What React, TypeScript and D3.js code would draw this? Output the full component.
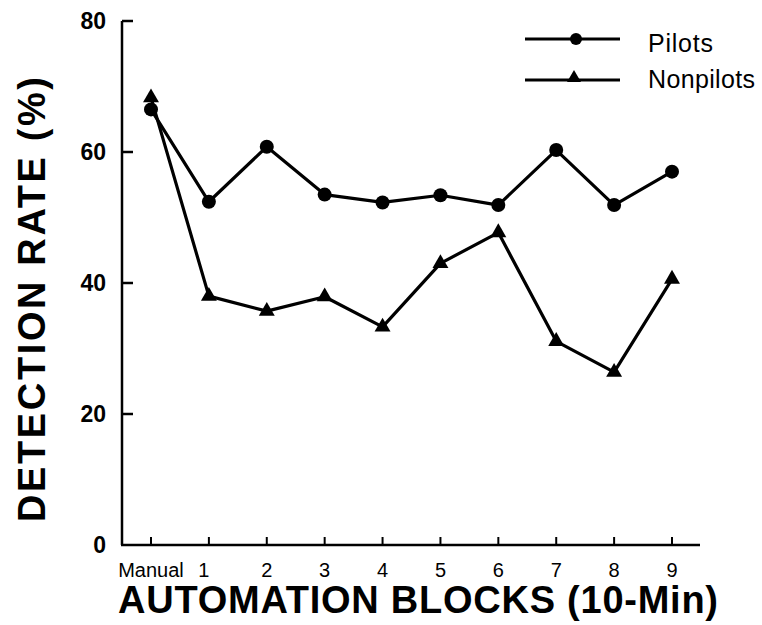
import React from "react";
import * as d3 from "d3";

const categories = ["Manual", "1", "2", "3", "4", "5", "6", "7", "8", "9"];
const pilots = [66.5, 52.4, 60.8, 53.5, 52.3, 53.4, 51.9, 60.3, 51.9, 57.0];
const nonpilots = [68.3, 38.0, 35.7, 37.9, 33.3, 43.0, 47.7, 31.1, 26.4, 40.6];
const yTicks = [0, 20, 40, 60, 80];
const seriesNames = ["Pilots", "Nonpilots"];

const FONT = "'Liberation Sans', Arial, Helvetica, sans-serif";

export default function App() {
  const W = 762;
  const H = 625;
  const x = d3.scalePoint<string>().domain(categories).range([151, 672]);
  const y = d3.scaleLinear().domain([0, 80]).range([545, 21]);
  const axisX = 122;
  const axisRight = 700;

  const line = d3
    .line<number>()
    .x((_, i) => x(categories[i]) as number)
    .y((d) => y(d));

  const tri = d3.symbol().type(d3.symbolTriangle).size(110)();
  const triSmall = d3.symbol().type(d3.symbolTriangle).size(85)();

  return (
    <svg
      width={W}
      height={H}
      style={{ position: "absolute", left: 0, top: 0, background: "#fff" }}
      fontFamily={FONT}
    >
      <rect x={0} y={0} width={W} height={H} fill="#fff" />
      {/* Y axis */}
      <line x1={axisX} y1={y(80)} x2={axisX} y2={y(0)} stroke="#000" strokeWidth={2.5} />
      {yTicks.map((t) => (
        <g key={t}>
          {t > 0 && (
            <line x1={axisX} x2={axisX + 11} y1={y(t)} y2={y(t)} stroke="#000" strokeWidth={2.5} />
          )}
          <text
            x={106}
            y={y(t)}
            dy="0.36em"
            textAnchor="end"
            fontSize={23}
            fontWeight={600}
          >
            {t}
          </text>
        </g>
      ))}
      {/* X axis */}
      <line x1={axisX - 1} y1={y(0)} x2={axisRight} y2={y(0)} stroke="#000" strokeWidth={2.5} />
      {categories.map((c, i) => (
        <g key={c}>
          <line
            x1={x(c)}
            x2={x(c)}
            y1={y(0)}
            y2={y(0) - 8}
            stroke="#000"
            strokeWidth={2}
          />
          <text
            x={(x(c) as number) + (i === 1 ? -5 : 0)}
            y={577}
            textAnchor="middle"
            fontSize={20}
          >
            {c}
          </text>
        </g>
      ))}
      {/* Axis titles */}
      <text
        x={118}
        y={613}
        fontSize={38}
        fontWeight="bold"
        textLength={600}
        lengthAdjust="spacing"
      >
        AUTOMATION BLOCKS (10-Min)
      </text>
      <text
        transform="translate(45,522) rotate(-90)"
        x={0}
        y={0}
        fontSize={38}
        fontWeight="bold"
        textLength={445}
        lengthAdjust="spacing"
      >
        DETECTION RATE (%)
      </text>
      {/* Series lines */}
      <path d={line(pilots) || ""} fill="none" stroke="#000" strokeWidth={3.2} strokeLinejoin="round" />
      <path d={line(nonpilots) || ""} fill="none" stroke="#000" strokeWidth={3.2} strokeLinejoin="round" />
      {pilots.map((v, i) => (
        <circle key={"p" + i} cx={x(categories[i])} cy={y(v)} r={7} fill="#000" />
      ))}
      {nonpilots.map((v, i) => (
        <path
          key={"n" + i}
          d={tri || ""}
          transform={`translate(${x(categories[i])},${y(v)})`}
          fill="#000"
        />
      ))}
      {/* Legend */}
      <g>
        <line x1={525} x2={620} y1={39} y2={39} stroke="#000" strokeWidth={3} />
        <circle cx={576} cy={39} r={6} fill="#000" />
        <text x={648} y={52} fontSize={25} textLength={65} lengthAdjust="spacing">
          {seriesNames[0]}
        </text>
        <line x1={525} x2={620} y1={80} y2={80} stroke="#000" strokeWidth={3} />
        <path d={triSmall || ""} transform="translate(574,78)" fill="#000" />
        <text x={648} y={88} fontSize={25} textLength={107} lengthAdjust="spacing">
          {seriesNames[1]}
        </text>
      </g>
    </svg>
  );
}
